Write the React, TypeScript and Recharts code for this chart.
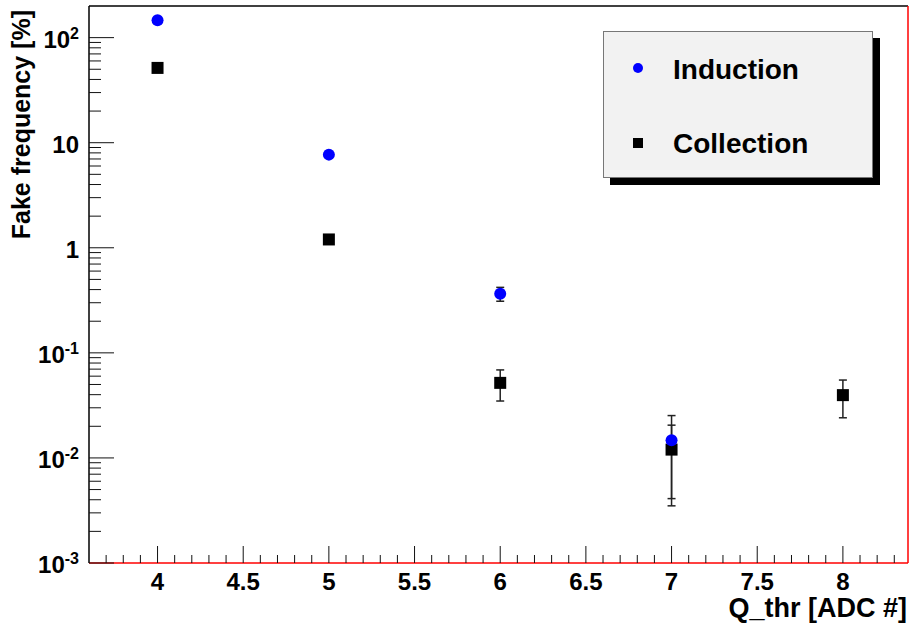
import React from 'react';
import { ScatterChart, Scatter, XAxis, YAxis, ErrorBar, ReferenceLine, Legend } from 'recharts';

// ---- data ----
const inductionX = [4, 5, 6, 7];
const inductionY = [146, 7.7, 0.365, 0.0147];
const inductionErr = [2, 0.1, 0.055, 0.0106];

const collectionX = [4, 5, 6, 7, 8];
const collectionY = [51.5, 1.2, 0.0518, 0.012, 0.0396];
const collectionErr = [1, 0.03, 0.017, 0.0085, 0.0155];

const xMajorTicks = [4, 4.5, 5, 5.5, 6, 6.5, 7, 7.5, 8];
const xDomain = [3.6, 8.38];
const yMajorTicks = [0.001, 0.01, 0.1, 1, 10, 100];
const yTickBase = ['10', '10', '10', '1', '10', '10'];
const yTickExp = ['-3', '-2', '-1', '', '', '2'];
const yDomain = [0.001, 200];

const seriesNames = ['Induction', 'Collection'];
const seriesColors = ['#0000ff', '#000000'];

// ---- derived tables ----
const inductionData = inductionX.map((x, i) => ({ x, y: inductionY[i], err: inductionErr[i] }));
const collectionData = collectionX.map((x, i) => ({ x, y: collectionY[i], err: collectionErr[i] }));

const xTicks: number[] = [];
for (let i = 37; i <= 83; i++) xTicks.push(i / 10);

const yTicks: number[] = [];
for (let e = -3; e <= 2; e++) {
  for (let k = 1; k <= 9; k++) {
    const v = k * Math.pow(10, e);
    if (v < yDomain[1]) yTicks.push(v);
  }
}

const FONT = '"Liberation Sans", Arial, Helvetica, sans-serif';
const RED = '#ff0000';

const isXMajor = (v: number) => xMajorTicks.some((m) => Math.abs(m - v) < 1e-6);

const XTick = (props: any) => {
  const { x, y, payload } = props;
  const v = payload.value;
  const major = isXMajor(v);
  const len = major ? 17 : 8;
  return (
    <g>
      <line x1={x} x2={x} y1={y} y2={y - len} stroke="#111" strokeWidth={1} />
      {major && (
        <text x={x} y={y + 27} textAnchor="middle" fontFamily={FONT} fontWeight="bold" fontSize={24} fill="#000">
          {String(v)}
        </text>
      )}
    </g>
  );
};

const YTick = (props: any) => {
  const { x, y, payload } = props;
  const v = payload.value;
  const lg = Math.log10(v);
  const major = Math.abs(lg - Math.round(lg)) < 1e-6;
  const len = major ? 25 : 12;
  const idx = yMajorTicks.findIndex((m) => Math.abs(Math.log10(m) - lg) < 1e-6);
  return (
    <g>
      <line x1={x} x2={x + len} y1={y} y2={y} stroke="#111" strokeWidth={1} />
      {major && idx >= 0 && (
        <text x={x - 10} y={y + 10} textAnchor="end" fontFamily={FONT} fontWeight="bold" fontSize={24} fill="#000">
          <tspan>{yTickBase[idx]}</tspan>
          {yTickExp[idx] && (
            <tspan dy={-9} fontSize={16}>
              {yTickExp[idx]}
            </tspan>
          )}
        </text>
      )}
    </g>
  );
};

const CircleShape = (p: any) => <circle cx={p.cx} cy={p.cy} r={6} fill={seriesColors[0]} />;
const SquareShape = (p: any) => <rect x={p.cx - 6} y={p.cy - 6} width={12} height={12} fill={seriesColors[1]} />;

const LegendBox = () => (
  <div
    style={{
      width: 270,
      height: 147,
      boxSizing: 'border-box',
      background: '#f2f2f2',
      border: '1px solid #777',
      boxShadow: '7px 7px 0 #000',
    }}
  >
    <svg width={268} height={145} style={{ display: 'block' }}>
      <circle cx={34} cy={36} r={5} fill={seriesColors[0]} />
      <text x={69} y={47} fontFamily={FONT} fontWeight="bold" fontSize={28} fill="#000">
        {seriesNames[0]}
      </text>
      <rect x={29} y={106} width={10} height={10} fill={seriesColors[1]} />
      <text x={69} y={121} fontFamily={FONT} fontWeight="bold" fontSize={28} fill="#000">
        {seriesNames[1]}
      </text>
    </svg>
  </div>
);

export default function App() {
  return (
    <div style={{ position: 'absolute', left: 0, top: 0, width: 911, height: 627, background: '#fff' }}>
      <ScatterChart width={911} height={627} margin={{ top: 6, right: 3, left: 0, bottom: 0 }}>
        <XAxis
          type="number"
          dataKey="x"
          domain={xDomain}
          allowDataOverflow
          ticks={xTicks}
          interval={0}
          tickSize={0}
          tickMargin={0}
          tickLine={false}
          tick={<XTick />}
          height={64}
          axisLine={{ stroke: RED, strokeWidth: 1.5 }}
          label={{
            content: (lp: any) => {
              const vb = lp.viewBox || { x: 89, y: 563, width: 819, height: 64 };
              return (
                <text x={vb.x + vb.width - 1} y={vb.y + 54} textAnchor="end" fontFamily={FONT} fontWeight="bold" fontSize={27} fill="#000">
                  Q_thr [ADC #]
                </text>
              );
            },
          }}
        />
        <YAxis
          type="number"
          dataKey="y"
          scale="log"
          domain={yDomain}
          allowDataOverflow
          ticks={yTicks}
          interval={0}
          tickSize={0}
          tickMargin={0}
          tickLine={false}
          tick={<YTick />}
          width={89}
          axisLine={{ stroke: '#000', strokeWidth: 1.5 }}
          label={{
            content: (lp: any) => {
              const vb = lp.viewBox || { x: 0, y: 6, width: 89, height: 557 };
              const tx = vb.x + 30;
              const ty = vb.y + 4;
              return (
                <text
                  x={tx}
                  y={ty}
                  transform={`rotate(-90 ${tx} ${ty})`}
                  textAnchor="end"
                  fontFamily={FONT}
                  fontWeight="bold"
                  fontSize={25}
                  fill="#000"
                >
                  Fake frequency [%]
                </text>
              );
            },
          }}
        />
        <ReferenceLine y={yDomain[1]} stroke="#000" strokeWidth={1.5} />
        <ReferenceLine x={xDomain[1]} stroke={RED} strokeWidth={1.5} />
        <Scatter name={seriesNames[1]} data={collectionData} shape={SquareShape} isAnimationActive={false}>
          <ErrorBar dataKey="err" direction="y" width={4} stroke="#222" strokeWidth={1.5} isAnimationActive={false} />
        </Scatter>
        <Scatter name={seriesNames[0]} data={inductionData} shape={CircleShape} isAnimationActive={false}>
          <ErrorBar dataKey="err" direction="y" width={4} stroke="#222" strokeWidth={1.5} isAnimationActive={false} />
        </Scatter>
        <Legend
          layout="horizontal"
          verticalAlign="middle"
          align="center"
          wrapperStyle={{ left: 603, top: 31, width: 270, height: 147 }}
          content={() => <LegendBox />}
        />
      </ScatterChart>
    </div>
  );
}
